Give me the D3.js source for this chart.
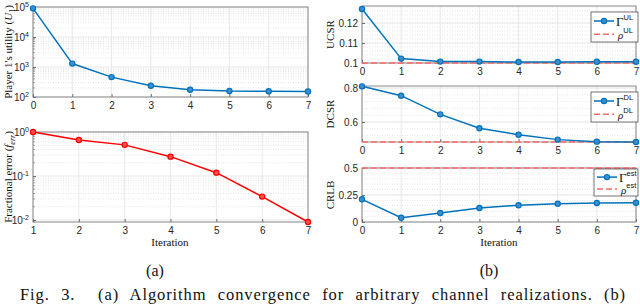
<!DOCTYPE html>
<html>
<head>
<meta charset="utf-8">
<script src="https://cdn.jsdelivr.net/npm/d3@7"></script>
<style>
  body { margin: 0; background: #fff; }
  .tick text { font-family: "Liberation Sans", Arial, sans-serif; font-size: 10px; fill: #262626; }
  .serif { font-family: "Liberation Serif", "Times New Roman", serif; fill: #111; }
</style>
</head>
<body>
<svg id="chart" width="640" height="304"></svg>
<script>
// ---- data ----
var iterA = [0, 1, 2, 3, 4, 5, 6, 7];
var utility = [90000, 1300, 460, 238, 175, 158, 155, 152];

var iterErr = [1, 2, 3, 4, 5, 6, 7];
var fracErr = [1.0, 0.66, 0.51, 0.275, 0.119, 0.034, 0.009];

var iterB = [0, 1, 2, 3, 4, 5, 6, 7];
var ucsr = [0.127, 0.1022, 0.1007, 0.1007, 0.1005, 0.1005, 0.1006, 0.1006];
var rhoUL = 0.1;
var dcsr = [0.81, 0.755, 0.645, 0.563, 0.525, 0.496, 0.484, 0.482];
var rhoDL = 0.482;
var crlb = [0.21, 0.04, 0.083, 0.13, 0.155, 0.17, 0.176, 0.178];
var rhoEst = 0.5;

var blue = "#0072BD";
var red = "#FF0000";
var rhoColor = "#FF6B6B";
var frameColor = "#6e6e6e";

var svg = d3.select("#chart");

// draws one axes box with grid, ticks, line + markers
function drawPanel(p) {
  var g = svg.append("g");
  var x = d3.scaleLinear().domain(p.xDomain).range([p.left, p.right]);
  var y = (p.log ? d3.scaleLog() : d3.scaleLinear()).domain(p.yDomain).range([p.bottom, p.top]);

  // minor grid (dotted)
  g.selectAll(".minor").data(p.minor).enter().append("line")
    .attr("x1", p.left).attr("x2", p.right)
    .attr("y1", d => y(d)).attr("y2", d => y(d))
    .attr("stroke", "#d4d4d4").attr("stroke-width", 0.6)
    .attr("stroke-dasharray", "1,1.5");

  // major grid
  g.selectAll(".gy").data(p.yTicks).enter().append("line")
    .attr("x1", p.left).attr("x2", p.right)
    .attr("y1", d => y(d)).attr("y2", d => y(d))
    .attr("stroke", "#e3e3e3").attr("stroke-width", 0.8);
  g.selectAll(".gx").data(p.xTicks).enter().append("line")
    .attr("y1", p.top).attr("y2", p.bottom)
    .attr("x1", d => x(d)).attr("x2", d => x(d))
    .attr("stroke", "#e3e3e3").attr("stroke-width", 0.8);

  // axes
  var xAxis = g.append("g")
    .attr("transform", `translate(0,${p.bottom})`)
    .call(d3.axisBottom(x).tickValues(p.xTicks).tickSizeInner(-3).tickSizeOuter(0).tickPadding(5).tickFormat(d3.format("d")));
  var yAxis = g.append("g")
    .attr("transform", `translate(${p.left},0)`)
    .call(d3.axisLeft(y).tickValues(p.yTicks).tickSizeInner(-3).tickSizeOuter(0).tickPadding(4).tickFormat(p.fmt || (d => d)));
  [xAxis, yAxis].forEach(a => {
    a.select(".domain").remove();
    a.selectAll(".tick line").attr("stroke", frameColor);
  });

  if (p.log) {
    // replace text with 10^k
    yAxis.selectAll(".tick text").each(function(d) {
      var t = d3.select(this).text("");
      t.append("tspan").text("10");
      t.append("tspan").attr("dy", -4).attr("font-size", 7).text(Math.round(Math.log10(d)));
    });
    // minor ticks on log axis
    g.selectAll(".mt").data(p.minor).enter().append("line")
      .attr("x1", p.left).attr("x2", p.left + 2)
      .attr("y1", d => y(d)).attr("y2", d => y(d))
      .attr("stroke", frameColor).attr("stroke-width", 0.6);
  }

  // frame
  g.append("rect")
    .attr("x", p.left).attr("y", p.top)
    .attr("width", p.right - p.left).attr("height", p.bottom - p.top)
    .attr("fill", "none").attr("stroke", frameColor).attr("stroke-width", 0.8);

  // reference level
  if (p.rho !== undefined) {
    g.append("line")
      .attr("x1", p.left).attr("x2", p.right)
      .attr("y1", y(p.rho)).attr("y2", y(p.rho))
      .attr("stroke", rhoColor).attr("stroke-width", 1.6)
      .attr("stroke-dasharray", "6,3");
  }

  var line = d3.line().x(d => x(d[0])).y(d => y(d[1]));
  var pts = p.xs.map((d, i) => [d, p.ys[i]]);
  g.append("path").datum(pts)
    .attr("d", line)
    .attr("fill", "none").attr("stroke", p.color).attr("stroke-width", 1.5);
  g.selectAll(".pt").data(pts).enter().append("circle")
    .attr("cx", d => x(d[0])).attr("cy", d => y(d[1]))
    .attr("r", 2.6)
    .attr("fill", p.fill).attr("stroke", p.color).attr("stroke-width", 1.2);

  // y label
  var lbl = svg.append("text").attr("class", "serif")
    .attr("transform", `translate(${p.labelX},${(p.top + p.bottom) / 2}) rotate(-90)`)
    .attr("text-anchor", "middle").attr("font-size", 11);
  p.label(lbl);

  if (p.legend) drawLegend(p.legend);
}

function drawLegend(L) {
  var g = svg.append("g");
  g.append("rect")
    .attr("x", L.x).attr("y", L.y).attr("width", L.w).attr("height", L.h)
    .attr("fill", "#fff").attr("stroke", "#3a3a3a").attr("stroke-width", 0.7);
  var y1 = L.y + L.h * 0.3, y2 = L.y + L.h * 0.74;
  g.append("line").attr("x1", L.x + 3).attr("x2", L.x + 23).attr("y1", y1).attr("y2", y1)
    .attr("stroke", blue).attr("stroke-width", 1.5);
  g.append("circle").attr("cx", L.x + 13).attr("cy", y1).attr("r", 2.6)
    .attr("fill", "#3d8fd0").attr("stroke", blue).attr("stroke-width", 1.2);
  g.append("line").attr("x1", L.x + 3).attr("x2", L.x + 23).attr("y1", y2).attr("y2", y2)
    .attr("stroke", rhoColor).attr("stroke-width", 1.6).attr("stroke-dasharray", "6,3");

  var t1 = g.append("text").attr("class", "serif").attr("x", L.x + 25).attr("y", y1 + 5).attr("font-size", 13);
  t1.append("tspan").text("Γ");
  t1.append("tspan").attr("dy", -6).attr("font-size", 7.5)
    .attr("font-family", "Liberation Sans, Arial, sans-serif").text(L.sup);
  var t2 = g.append("text").attr("class", "serif").attr("x", L.x + 27).attr("y", y2 + 5).attr("font-size", 11);
  t2.append("tspan").attr("font-style", "italic").text("ρ");
  t2.append("tspan").attr("dy", -6).attr("font-size", 7.5)
    .attr("font-family", "Liberation Sans, Arial, sans-serif").text(L.sup);
}

function logMinor(lo, hi) {
  var out = [];
  for (var e = lo; e < hi; e++)
    for (var k = 2; k <= 9; k++) out.push(k * Math.pow(10, e));
  return out;
}
function linMinor(a, b, step) {
  var out = [];
  for (var v = a; v <= b + 1e-9; v += step) out.push(+v.toFixed(6));
  return out;
}

// (a) top: utility
drawPanel({
  left: 33, right: 308, top: 7, bottom: 97,
  xDomain: [0, 7], xTicks: iterA,
  log: true, yDomain: [100, 1e5], yTicks: [100, 1000, 1e4, 1e5],
  minor: logMinor(2, 5),
  xs: iterA, ys: utility, color: blue, fill: "#3d8fd0",
  labelX: 12,
  label: t => {
    t.append("tspan").text("Player 1's utility (");
    t.append("tspan").attr("font-style", "italic").text("U");
    t.append("tspan").attr("font-size", 8).attr("dy", 3).text("1");
    t.append("tspan").attr("dy", -3).text(")");
  }
});

// (a) bottom: fractional error
drawPanel({
  left: 33, right: 308, top: 132, bottom: 222,
  xDomain: [1, 7], xTicks: iterErr,
  log: true, yDomain: [0.009, 1], yTicks: [0.01, 0.1, 1],
  minor: logMinor(-3, 0).filter(v => v >= 0.009),
  xs: iterErr, ys: fracErr, color: red, fill: "#ff5050",
  labelX: 12,
  label: t => {
    t.append("tspan").text("Fractional error (");
    t.append("tspan").attr("font-style", "italic").text("f");
    t.append("tspan").attr("font-style", "italic").attr("font-size", 8).attr("dy", 3).text("err");
    t.append("tspan").attr("dy", -3).text(")");
  }
});

// (b) UCSR
drawPanel({
  left: 362, right: 636, top: 6, bottom: 63,
  xDomain: [0, 7], xTicks: iterB,
  yDomain: [0.1, 0.1285], yTicks: [0.1, 0.11, 0.12],
  minor: linMinor(0.1, 0.128, 0.002), fmt: d3.format("~g"),
  xs: iterB, ys: ucsr, color: blue, fill: "#3d8fd0", rho: rhoUL,
  labelX: 334, label: t => t.text("UCSR"),
  legend: { x: 591, y: 12, w: 47, h: 30, sup: "UL" }
});

// (b) DCSR
drawPanel({
  left: 362, right: 636, top: 86, bottom: 142,
  xDomain: [0, 7], xTicks: iterB,
  yDomain: [0.482, 0.812], yTicks: [0.6, 0.8],
  minor: linMinor(0.52, 0.8, 0.04), fmt: d3.format("~g"),
  xs: iterB, ys: dcsr, color: blue, fill: "#3d8fd0", rho: rhoDL,
  labelX: 334, label: t => t.text("DCSR"),
  legend: { x: 591, y: 92, w: 47, h: 30, sup: "DL" }
});

// (b) CRLB
drawPanel({
  left: 362, right: 636, top: 168, bottom: 222,
  xDomain: [0, 7], xTicks: iterB,
  yDomain: [0, 0.5], yTicks: [0, 0.25, 0.5],
  minor: linMinor(0.05, 0.45, 0.05), fmt: d3.format("~g"),
  xs: iterB, ys: crlb, color: blue, fill: "#3d8fd0", rho: rhoEst,
  labelX: 334, label: t => t.text("CRLB"),
  legend: { x: 594, y: 169, w: 44, h: 27, sup: "est" }
});

// x labels and captions
svg.append("text").attr("class", "serif").attr("x", 170).attr("y", 246)
  .attr("text-anchor", "middle").attr("font-size", 11).text("Iteration");
svg.append("text").attr("class", "serif").attr("x", 499).attr("y", 246)
  .attr("text-anchor", "middle").attr("font-size", 11).text("Iteration");
svg.append("text").attr("class", "serif").attr("x", 155).attr("y", 276)
  .attr("text-anchor", "middle").attr("font-size", 16).text("(a)");
svg.append("text").attr("class", "serif").attr("x", 489).attr("y", 276)
  .attr("text-anchor", "middle").attr("font-size", 16).text("(b)");

// justified caption line: a little letter spacing, rest goes between words
var capText = "Fig. 3.  (a) Algorithm convergence for arbitrary channel realizations. (b)";
var cap = svg.append("text").attr("class", "serif").attr("x", 20).attr("y", 300)
  .attr("font-size", 16.5).attr("letter-spacing", 0.9)
  .attr("xml:space", "preserve").text(capText);
var gaps = capText.split(" ").length - 1;
var extra = (606 - cap.node().getComputedTextLength()) / gaps;
cap.attr("word-spacing", Math.max(0, extra));
</script>
</body>
</html>
